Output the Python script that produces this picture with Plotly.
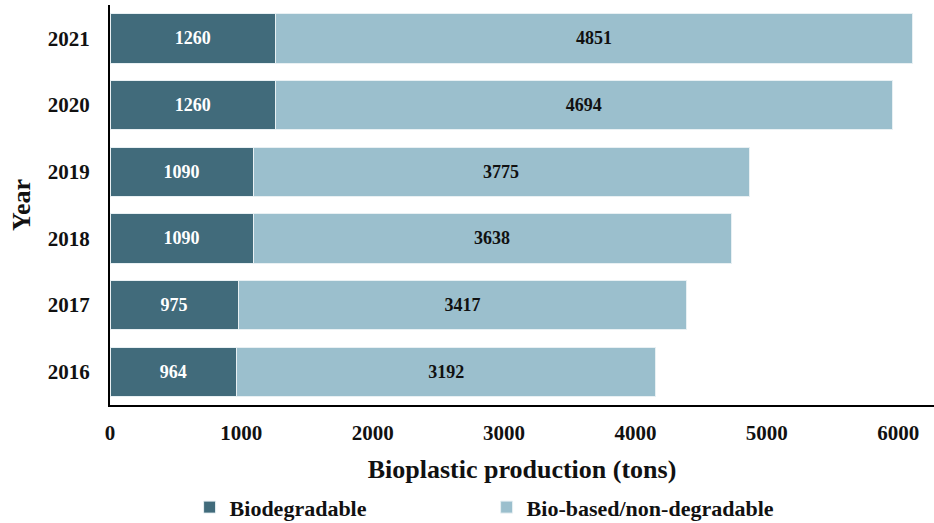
import plotly.graph_objects as go

years = ["2016", "2017", "2018", "2019", "2020", "2021"]
biodegradable = [964, 975, 1090, 1090, 1260, 1260]
bio_based = [3192, 3417, 3638, 3775, 4694, 4851]

series_names = ["Biodegradable", "Bio-based/non-degradable"]
dark = "#416B7B"
light = "#9BBFCD"
FONT = "Liberation Serif"

fig = go.Figure()
fig.add_trace(go.Bar(
    y=years, x=biodegradable, orientation="h", name=series_names[0],
    marker=dict(color=dark, line=dict(color="#E8F0F3", width=1)),
    text=biodegradable, textposition="inside", insidetextanchor="middle",
    textfont=dict(family=FONT, size=18, color="white", weight="bold"),
    textangle=0,
))
fig.add_trace(go.Bar(
    y=years, x=bio_based, orientation="h", name=series_names[1],
    marker=dict(color=light, line=dict(color="#E8F0F3", width=1)),
    text=bio_based, textposition="inside", insidetextanchor="middle",
    textfont=dict(family=FONT, size=18, color="#111111", weight="bold"),
    textangle=0,
))

fig.update_layout(
    width=934, height=523,
    barmode="stack", bargap=0.26,
    plot_bgcolor="white", paper_bgcolor="white",
    margin=dict(l=110, r=0, t=5, b=118),
    font=dict(family=FONT, color="#111111", weight="bold"),
    legend=dict(
        orientation="h", xref="container", yref="container",
        x=0.203, xanchor="left", y=0.03, yanchor="middle",
        font=dict(family=FONT, size=22, weight="bold"),
        entrywidth=252, entrywidthmode="pixels",
        traceorder="normal",
    ),
)
fig.update_xaxes(
    range=[0, 6273], showgrid=False, zeroline=False,
    showline=True, linecolor="black", linewidth=2,
    tickvals=[0, 1000, 2000, 3000, 4000, 5000, 6000],
    tickfont=dict(family=FONT, size=21, weight="bold"),
    ticks="", ticklabelstandoff=8,
    title=dict(text="Bioplastic production (tons)",
               font=dict(family=FONT, size=26, weight="bold"), standoff=16),
)
fig.update_yaxes(
    type="category", categoryorder="array", categoryarray=years,
    range=[-0.5, 5.5], showgrid=False, zeroline=False,
    showline=True, linecolor="black", linewidth=2,
    tickfont=dict(family=FONT, size=21, weight="bold"),
    ticks="", ticklabelstandoff=14,
    title=dict(text="Year", font=dict(family=FONT, size=26, weight="bold"), standoff=10),
)

fig.write_html("out.html", config={"displayModeBar": False},
               post_script="document.body.style.margin='0';")
